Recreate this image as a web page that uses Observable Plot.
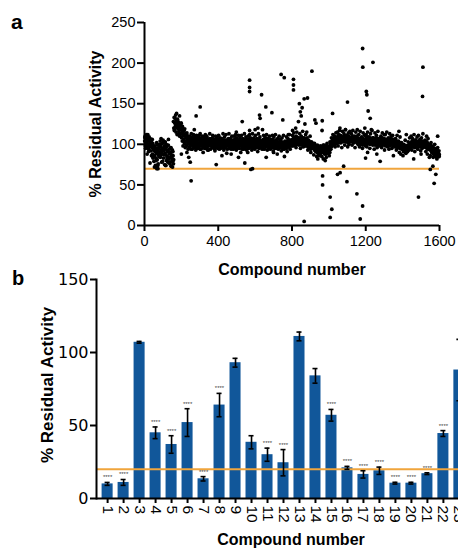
<!DOCTYPE html>
<html><head><meta charset="utf-8">
<script src="https://cdn.jsdelivr.net/npm/d3@7"></script>
<script src="https://cdn.jsdelivr.net/npm/@observablehq/plot@0.6"></script>
<style>
html,body{margin:0;padding:0;width:458px;height:548px;overflow:hidden;background:#fff;}
#wrap{position:relative;width:458px;height:548px;overflow:hidden;}
.ttl{position:absolute;font-family:"Liberation Sans",Arial,sans-serif;font-weight:bold;color:#000;white-space:nowrap;line-height:1;transform:translate(-50%,-50%);}
.rot{transform:translate(-50%,-50%) rotate(-90deg);}
.letter{position:absolute;font-family:"Liberation Sans",Arial,sans-serif;font-weight:bold;color:#000;line-height:1;}
</style></head><body><div id="wrap"></div>
<script>
// ---------- Panel a: screening scatter ----------
// % residual activity for odd compounds 1,3,5,...,1599 (dense band)
const bandValuesOdd = [
104,110,98,106,101,112,96,103,108,99,105,94,109,100,97,107,102,92,104,99,
96,88,101,84,93,79,98,86,91,74,95,83,89,99,81,92,70,87,96,85,
100,90,104,86,97,93,78,101,88,95,105,83,92,98,75,89,103,87,94,80,
97,85,91,78,99,82,88,94,76,90,84,96,73,87,81,93,79,86,128,120,
133,118,126,122,136,115,129,124,112,131,119,127,121,116,125,110,123,118,113,126,
108,119,104,115,98,112,106,117,101,110,96,113,104,108,99,111,105,102,94,107,
101,106,97,104,109,99,103,94,107,100,105,98,102,110,96,104,101,97,106,100,
103,99,108,95,102,106,100,97,111,101,104,94,107,99,103,105,98,102,96,109,
100,104,98,106,101,95,103,108,99,102,97,105,100,93,104,101,107,98,102,100,
105,99,102,96,108,101,98,104,100,106,94,103,99,101,107,97,102,105,100,98,
103,97,101,106,99,104,95,102,100,107,98,103,101,96,105,100,99,104,102,97,
101,105,98,102,94,104,100,107,99,103,97,101,106,100,98,104,102,96,105,101,
99,103,100,96,106,101,104,98,102,108,100,95,103,101,97,105,99,102,104,100,
102,98,105,100,94,103,107,99,101,104,96,102,100,106,98,103,101,97,105,100,
104,99,101,106,97,103,100,108,98,102,105,95,101,104,99,107,100,103,97,102,
100,105,98,103,101,107,96,102,104,99,106,100,103,97,105,101,99,104,102,98,
103,100,106,98,102,105,99,101,108,97,104,100,102,106,99,103,101,96,105,100,
102,98,104,101,96,103,100,106,99,102,97,104,101,95,103,100,105,98,101,99,
99,103,97,101,95,102,100,98,104,96,101,99,103,97,100,94,102,98,101,96,
100,97,103,99,101,95,104,98,102,100,97,103,99,105,101,98,104,100,102,99,
103,106,100,104,108,101,105,99,107,103,102,110,104,100,106,103,108,101,105,102,
104,100,107,102,105,99,106,103,101,108,104,100,105,102,98,106,103,100,104,101,
102,99,104,97,101,100,96,103,98,101,94,99,102,97,100,95,98,101,96,99,
97,93,99,95,91,98,94,96,90,97,93,95,89,96,92,94,88,95,91,93,
93,97,90,95,99,92,96,89,94,98,91,95,88,97,93,90,96,92,94,89,
92,96,90,99,94,101,97,103,99,105,102,107,100,104,108,102,106,101,105,103,
107,104,109,102,106,110,104,108,103,107,105,111,102,106,109,104,108,105,103,107,
106,110,104,108,105,103,109,107,111,104,106,108,102,107,110,105,103,108,106,104,
108,105,103,107,110,104,106,102,108,105,109,103,107,104,106,110,102,105,108,104,
105,102,107,104,100,106,103,108,101,105,104,99,107,102,106,103,100,105,101,104,
105,108,102,106,104,109,101,107,103,105,108,100,106,104,102,107,105,101,108,103,
104,101,107,103,106,99,105,102,108,100,104,106,101,103,107,99,105,102,104,100,
106,102,104,99,108,103,101,105,102,107,100,104,103,98,106,102,105,101,104,102,
103,100,106,102,98,105,101,103,107,99,104,102,100,106,103,101,105,99,102,104,
99,102,97,100,104,98,101,96,103,100,98,102,95,101,99,97,100,94,98,96,
94,97,91,95,99,93,96,90,98,94,92,97,95,91,99,96,93,98,100,95,
98,101,96,103,99,102,97,104,100,98,103,101,96,102,99,105,100,97,103,101,
102,98,104,100,97,103,101,99,105,100,98,102,96,104,100,99,103,97,101,100,
99,102,96,100,98,103,95,101,97,99,94,100,96,98,93,97,99,95,92,97,
94,90,96,88,93,91,86,95,89,92,87,90,84,93,88,91,85,89,92,87
];
// % residual activity for compounds 2,6,10,...,1598 (band edges)
const bandValuesEven = [
108,95,101,88,112,91,104,77,99,86,106,83,97,72,93,80,102,89,76,94,
98,84,107,91,79,102,87,95,74,100,83,92,106,78,89,96,73,85,91,81,
117,132,125,138,121,128,113,135,119,126,109,122,116,104,119,111,98,114,107,101,
96,110,99,113,94,106,112,97,108,93,111,100,95,109,98,113,94,105,110,90,
108,95,112,97,110,93,106,99,113,94,107,100,111,96,104,92,110,98,109,95,
111,94,108,97,106,99,113,93,109,96,112,89,105,98,113,95,107,94,110,99,
94,110,97,112,93,107,99,111,95,108,90,111,97,105,94,113,96,109,93,106,
110,95,112,98,107,93,113,96,108,94,111,99,106,91,113,95,109,97,104,94,
96,111,94,108,98,112,93,107,95,110,94,106,99,111,92,109,97,112,95,105,
107,94,110,96,106,92,108,98,111,94,104,96,109,91,107,97,112,94,105,98,
111,98,114,100,109,96,115,101,108,99,113,95,110,101,116,97,108,99,112,98,
108,93,105,97,110,90,103,95,99,87,101,92,97,85,99,89,94,86,98,90,
85,96,82,99,88,94,84,101,90,97,86,103,94,108,98,112,101,110,97,114,
101,115,98,112,117,102,110,96,116,104,113,99,118,103,111,97,114,100,116,106,
113,99,117,102,110,96,115,104,118,100,112,97,116,103,109,95,114,101,111,98,
112,97,115,101,109,95,113,103,117,99,108,94,114,100,111,96,116,102,107,98,
110,96,114,99,107,93,112,101,115,97,108,94,113,100,110,95,111,98,106,97,
107,93,111,96,104,90,109,88,102,95,86,100,92,105,89,98,91,103,94,108,
96,110,93,107,99,112,91,105,97,109,94,111,98,106,92,108,95,113,100,104,
105,91,103,88,107,94,99,86,102,90,97,84,95,100,88,93,82,96,89,85
];
// scattered points off the band: compound number / % residual activity
const outlierCompounds = [67,72,116,152,157,140,253,248,240,230,200,280,302,270,389,420,470,510,530,544,498,570,570,570,570,577,586,560,600,615,624,627,635,640,658,691,660,700,720,741,758,750,759,780,808,808,808,803,820,835,840,845,850,855,866,884,870,880,908,924,930,866,964,963,966,966,940,980,1007,1016,1007,1020,1047,1061,1080,1098,1101,1060,1090,1152,1170,1183,1183,1184,1239,1206,1203,1213,1224,1199,1210,1195,1230,1278,1260,1300,1350,1380,1420,1486,1510,1508,1571,1580,1564,1550,1530,1545,1590,1500,1460];
const outlierValues    = [70,74,74,72,76,78,55,78,84,90,88,135,146,118,75,86,88,84,128,77,115,179,170,165,117,69,70,90,118,120,136,132,161,118,146,139,84,90,88,186,182,130,85,112,180,173,167,117,120,128,150,140,135,145,156,157,125,115,190,130,126,5,129,117,61,50,82,80,35,20,10,138,63,65,73,54,152,120,118,39,8,24,218,195,201,161,165,141,132,83,90,120,118,79,88,112,86,116,112,35,195,159,52,63,73,69,110,84,110,88,82];
const thresholdA = 70;
const xTicksA = [0, 400, 800, 1200, 1600];
const yTicksA = [0, 50, 100, 150, 200, 250];

// ---------- Panel b: confirmation bars ----------
const barCompounds = ["1","2","3","4","5","6","7","8","9","10","11","12","13","14","15","16","17","18","19","20","21","22","23"];
const barMeans  = [10,11,107,45,37,52,13.5,64,93,38.5,30,24.5,111,84,57,21,16.5,19,10.5,10.5,17,44.5,88];
const barErrors = [1,2,0.6,4,6,9.5,1.5,8,3,4.5,4.5,9,3,5,4,1,2.5,2.5,0.6,0.6,0.6,2,21];
const barStars  = [1,1,0,1,1,1,1,1,0,0,1,1,0,0,1,1,1,1,1,1,1,1,0];
const thresholdB = 20;
const yTicksB = [0, 50, 100, 150];

const ORANGE = "#F0A53C";
const BLUE = "#11579A";
const FONT = '"Liberation Sans", Arial, sans-serif';

const bandData = bandValuesOdd.map((v, i) => ({compound: 2 * i + 1, activity: v}))
  .concat(bandValuesEven.map((v, i) => ({compound: 4 * i + 2, activity: v})));
const outliers = outlierCompounds.map((c, i) => ({compound: c, activity: outlierValues[i]}));
const bars = barCompounds.map((c, i) => ({compound: c, mean: barMeans[i], err: barErrors[i], star: barStars[i]}));

const wrap = document.getElementById("wrap");

const plotA = Plot.plot({
  width: 458, height: 262,
  marginTop: 22, marginBottom: 37, marginLeft: 144, marginRight: 19,
  style: {fontFamily: FONT, background: "transparent", overflow: "visible", maxWidth: "none", color: "#000"},
  x: {domain: [0, 1600]},
  y: {domain: [0, 250]},
  marks: [
    Plot.ruleY([thresholdA], {stroke: ORANGE, strokeWidth: 2}),
    Plot.dot(bandData, {x: "compound", y: "activity", r: 1.9, fill: "#000"}),
    Plot.dot(outliers, {x: "compound", y: "activity", r: 1.9, fill: "#000"}),
    Plot.axisX({ticks: xTicksA, tickFormat: d => String(d), tickSize: 6, tickPadding: 4, fontSize: 14.5, strokeWidth: 2, label: null}),
    Plot.axisY({ticks: yTicksA, tickSize: 7, tickPadding: 2, fontSize: 14.5, strokeWidth: 2, label: null}),
    Plot.ruleX([0], {strokeWidth: 2}),
    Plot.ruleY([0], {strokeWidth: 2})
  ]
});
plotA.style.position = "absolute"; plotA.style.left = "0px"; plotA.style.top = "0px";
wrap.appendChild(plotA);

const plotB = Plot.plot({
  width: 480, height: 286,
  marginTop: 17, marginBottom: 50, marginLeft: 96, marginRight: 10,
  style: {fontFamily: FONT, background: "transparent", overflow: "visible", maxWidth: "none", color: "#000"},
  x: {type: "band", domain: barCompounds, paddingInner: 0.31, paddingOuter: 0.35, round: false},
  y: {domain: [0, 150]},
  marks: [
    Plot.barY(bars, {x: "compound", y: "mean", fill: BLUE}),
    Plot.ruleY([thresholdB], {stroke: ORANGE, strokeWidth: 2}),
    Plot.ruleX(bars, {x: "compound", y1: d => d.mean - d.err, y2: d => d.mean + d.err, strokeWidth: 1.6}),
    Plot.tickY(bars, {x: "compound", y: d => d.mean + d.err, insetLeft: 3, insetRight: 3, strokeWidth: 1.6}),
    Plot.tickY(bars, {x: "compound", y: d => d.mean - d.err, insetLeft: 3, insetRight: 3, strokeWidth: 1.6}),
    Plot.text(bars.filter(d => d.star), {x: "compound", y: d => d.mean + d.err, text: () => "****", dy: -5, fontSize: 6, fill: "#444"}),
    Plot.axisX({tickRotate: 90, tickSize: 5, tickPadding: 2, fontSize: 15.5, strokeWidth: 2, label: null}),
    Plot.axisY({ticks: yTicksB, tickSize: 6, tickPadding: 2, fontSize: 16, fontFamily: "DejaVu Sans", strokeWidth: 2, label: null}),
    Plot.ruleY([0], {strokeWidth: 2}),
    Plot.frame({anchor: "left", strokeWidth: 2})
  ]
});
plotB.style.position = "absolute"; plotB.style.left = "0px"; plotB.style.top = "262px";
wrap.appendChild(plotB);

function addText(cls, txt, left, top, size) {
  const d = document.createElement("div");
  d.className = cls;
  d.textContent = txt;
  d.style.left = left + "px";
  d.style.top = top + "px";
  d.style.fontSize = size + "px";
  wrap.appendChild(d);
}
addText("letter", "a", 11, 11, 21);
addText("letter", "b", 12, 268, 20);
addText("ttl rot", "% Residual Activity", 96, 124, 16);
addText("ttl", "Compound number", 292, 270, 16);
addText("ttl rot", "% Residual Activity", 47, 385, 17);
addText("ttl", "Compound number", 291, 540, 16);
</script></body></html>
